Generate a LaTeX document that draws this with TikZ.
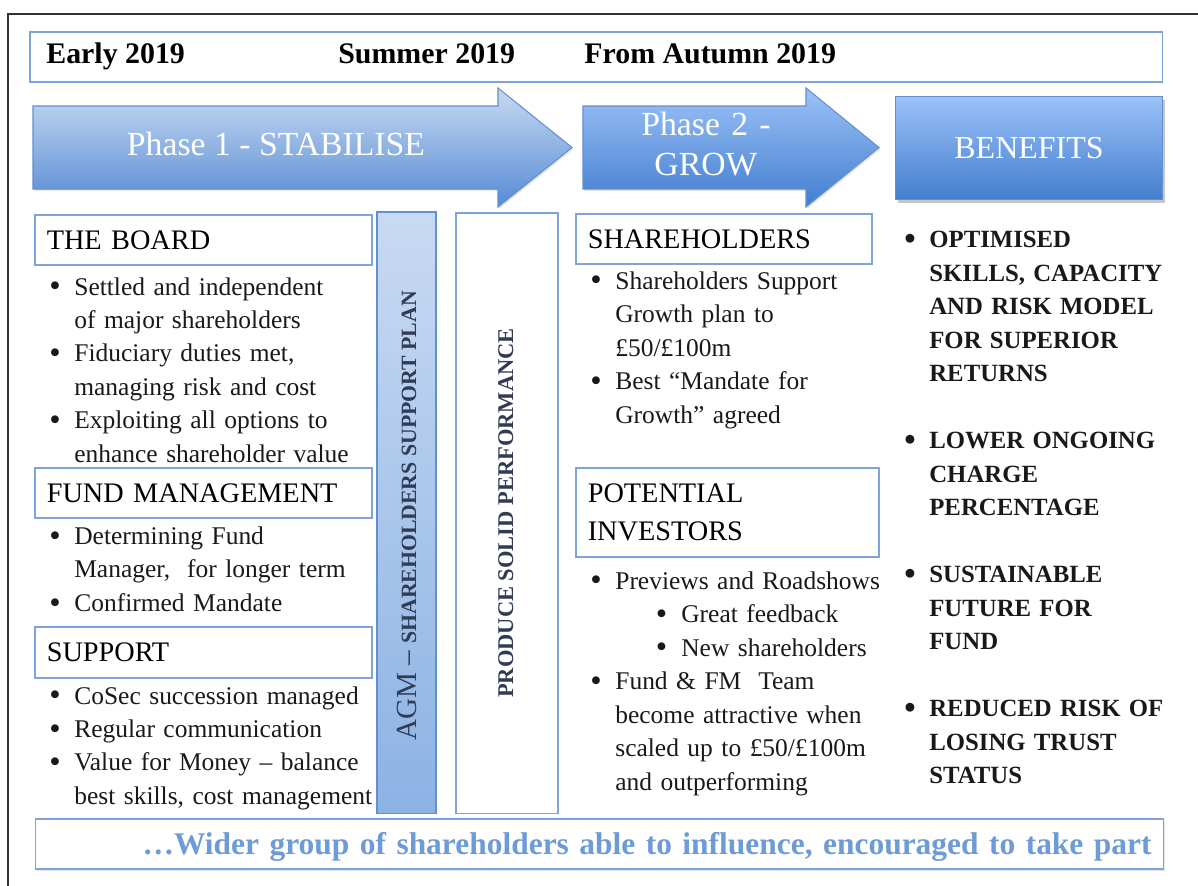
\documentclass[tikz,border=0pt]{standalone}
\usepackage{fontspec}
\setmainfont{Liberation Serif}
\usetikzlibrary{shadows}

\definecolor{edgeblue}{RGB}{125,163,218}
\definecolor{arrowline}{RGB}{98,143,208}
\definecolor{lightsky}{RGB}{200,218,242}
\definecolor{midsky}{RGB}{86,139,212}
\definecolor{brightsky}{RGB}{156,194,248}
\definecolor{deepsky}{RGB}{66,126,206}
\definecolor{barbottom}{RGB}{140,178,228}
\definecolor{slate}{RGB}{48,60,84}
\definecolor{softblue}{RGB}{108,155,215}

% bullet items with hanging indent (\fitm opens a list, \itm and \subitm follow)
\newcommand{\bigdot}{\raisebox{-0.9pt}{\fontsize{18.5pt}{18.5pt}\selectfont\textbullet}}
\newcommand{\fitm}{\hangindent=0.5cm\hangafter=1\noindent\makebox[0.5cm][l]{\bigdot}}
\newcommand{\itm}{\par\fitm}
\newcommand{\subitm}{\par\hangindent=1.82cm\hangafter=1\noindent\hspace*{1.31cm}\makebox[0.51cm][l]{\bigdot}}
\newcommand{\bodysize}{\fontsize{14.5pt}{19.06pt}\selectfont}
\newcommand{\headsize}{\fontsize{16.1pt}{21.7pt}\selectfont}

\begin{document}
\begin{tikzpicture}[x=0.02cm, y=-0.02cm,
    boxframe/.style={draw=edgeblue, line width=0.9pt, fill=white, anchor=north west, inner sep=0pt},
    headbox/.style={boxframe, inner xsep=0.24cm, align=left, font=\headsize},
    bullets/.style={anchor=base west, inner sep=0pt, align=left, font=\bodysize, text=black!90},
    datetext/.style={anchor=base west, inner sep=0pt, font=\fontsize{17pt}{20pt}\selectfont\bfseries},
    phasearrow/.style={draw=arrowline, line width=0.6pt, top color=lightsky, bottom color=midsky},
    phasetext/.style={text=white, inner sep=0pt, font=\fontsize{19.2pt}{22.8pt}\selectfont},
    sidetext/.style={anchor=base, rotate=90, inner sep=0pt, text=slate},
    softshadow/.style={drop shadow={opacity=0.2, shadow xshift=0.8pt, shadow yshift=-1pt}},
    darkshadow/.style={drop shadow={opacity=0.45, shadow xshift=1.2pt, shadow yshift=-2pt}}]

  \useasboundingbox (0,0) rectangle (1198,886);
  % outer frame
  \draw[line width=1.2pt, black!80] (8,886) -- (8,14) -- (1198,14);

  % time line
  \node[boxframe, minimum width=22.66cm, minimum height=1cm] (timeline) at (29,31) {};
  \node[datetext] (early) at (46,63) {Early 2019};
  \node[datetext] (summer) at (338,63) {Summer 2019};
  \node[datetext] (autumn) at (584,63) {From Autumn 2019};

  % phase arrows
  \path[phasearrow, softshadow] (33,106) -- (498,106) -- (498,88) -- (572,147.5)
    -- (498,207) -- (498,189) -- (33,189) -- cycle;
  \node[phasetext, anchor=base] (phase1) at (276,155) {Phase 1 - STABILISE};
  \path[phasearrow, softshadow, top color=brightsky, bottom color=deepsky] (583,106) -- (806,106)
    -- (806,88) -- (879,147.5) -- (806,207) -- (806,189) -- (583,189) -- cycle;
  \node[phasetext, anchor=base, text width=4cm, align=center] (phase2) at (706,135) {Phase 2 -\\GROW};
  \node[phasearrow, darkshadow, phasetext, anchor=north west, top color=brightsky, bottom color=deepsky,
        minimum width=5.34cm, minimum height=2.06cm, font=\fontsize{18.2pt}{22pt}\selectfont] (benefits) at (895,96) {BENEFITS};

  % board, fund management, support
  \node[headbox, text width=6.26cm, minimum height=1cm] (board) at (34,214) {THE BOARD};
  \node[bullets, text width=7cm] (boardlist) at (49,295) {\fitm Settled and independent\newline of major shareholders
    \itm Fiduciary duties met,\newline managing risk and cost
    \itm Exploiting all options to\newline enhance shareholder value\par};
  \node[headbox, text width=6.26cm, minimum height=1cm] (fund) at (34,467) {FUND MANAGEMENT};
  \node[bullets, text width=7cm] (fundlist) at (49,544.5) {\fitm Determining Fund\newline Manager,~ for longer term
    \itm Confirmed Mandate\par};
  \node[headbox, text width=6.26cm, minimum height=1.02cm] (support) at (34,626) {SUPPORT};
  \node[bullets, text width=7cm] (supportlist) at (49,704) {\fitm CoSec succession managed
    \itm Regular communication
    \itm Value for Money -- balance\newline best skills, cost management\par};

  % vertical bars
  \node[boxframe, draw=arrowline, top color=lightsky, bottom color=barbottom,
        minimum width=1.18cm, minimum height=12.04cm] (agmbar) at (376,211) {};
  \node[sidetext] (agm) at (416,516) {{\fontsize{16.6pt}{19pt}\selectfont AGM -- }%
    {\fontsize{12.4pt}{15pt}\selectfont\bfseries SHAREHOLDERS SUPPORT PLAN}};
  \node[boxframe, minimum width=2.04cm, minimum height=12.02cm] (produce) at (455,212) {};
  \node[sidetext, font=\fontsize{12.8pt}{15pt}\selectfont\bfseries] (solid) at (513,513) {PRODUCE SOLID PERFORMANCE};

  % shareholders and investors
  \node[headbox, text width=5.44cm, minimum height=1cm] (holders) at (575,213) {SHAREHOLDERS};
  \node[bullets, text width=6cm] (holderlist) at (590,289.3) {\fitm Shareholders Support\newline Growth plan to\newline £50/£100m
    \itm Best “Mandate for\newline Growth” agreed\par};
  \node[headbox, text width=5.58cm, minimum height=1.78cm] (investors) at (575,467) {POTENTIAL\\INVESTORS};
  \node[bullets, text width=6cm] (investorlist) at (590,589.3) {\fitm Previews and Roadshows
    \subitm Great feedback
    \subitm New shareholders
    \itm Fund \& FM~ Team\newline become attractive when\newline scaled up to £50/£100m\newline and outperforming\par};

  % benefits
  \node[bullets, text width=5.6cm, font=\fontsize{14.1pt}{19.06pt}\selectfont\bfseries] (benefitlist) at (904,247.7)
    {\fitm OPTIMISED\newline SKILLS, CAPACITY\newline AND RISK MODEL\newline FOR SUPERIOR\newline RETURNS\par\vspace{\baselineskip}
     \fitm LOWER ONGOING\newline CHARGE\newline PERCENTAGE\par\vspace{\baselineskip}
     \fitm SUSTAINABLE\newline FUTURE FOR\newline FUND\par\vspace{\baselineskip}
     \fitm REDUCED RISK OF\newline LOSING TRUST\newline STATUS\par};

  % bottom line
  \node[boxframe, softshadow, text width=22.09cm, minimum height=1cm, inner xsep=0.24cm, align=right, text=softblue,
        text depth=0pt, font=\fontsize{17.9pt}{22pt}\selectfont\bfseries] (wider) at (34.5,818)
    {…Wider group of shareholders able to influence, encouraged to take part};
\end{tikzpicture}
\end{document}
